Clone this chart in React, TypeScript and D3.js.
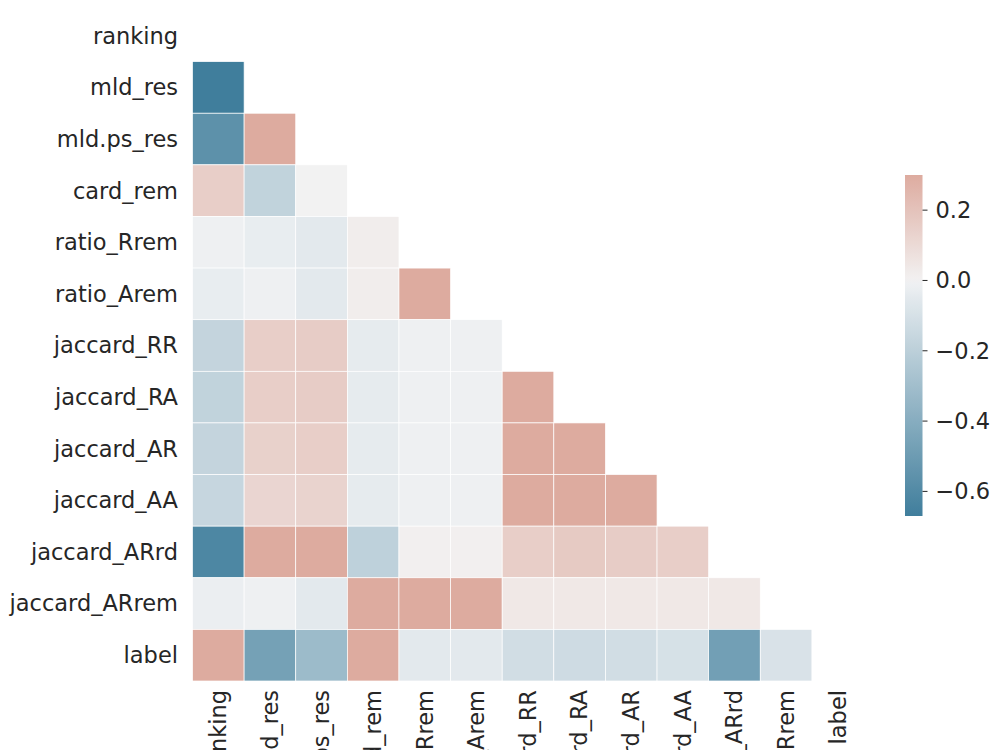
import React from "react";
import * as d3 from "d3";

// variable names, same order on both axes
const variables = [
  "ranking", "mld_res", "mld.ps_res", "card_rem", "ratio_Rrem", "ratio_Arem",
  "jaccard_RR", "jaccard_RA", "jaccard_AR", "jaccard_AA", "jaccard_ARrd",
  "jaccard_ARrem", "label",
];

// lower triangle of the correlation matrix, one row per variable (diagonal masked)
const rowRanking: number[] = [];
const rowMldRes = [-0.67];
const rowMldPsRes = [-0.56, 0.3];
const rowCardRem = [0.15, -0.18, 0.0];
const rowRatioRrem = [-0.01, -0.03, -0.05, 0.02];
const rowRatioArem = [-0.03, -0.01, -0.05, 0.02, 0.3];
const rowJaccardRR = [-0.17, 0.15, 0.16, -0.04, -0.01, -0.01];
const rowJaccardRA = [-0.18, 0.15, 0.16, -0.04, -0.01, -0.01, 0.3];
const rowJaccardAR = [-0.17, 0.14, 0.15, -0.04, -0.01, -0.01, 0.3, 0.3];
const rowJaccardAA = [-0.16, 0.12, 0.13, -0.04, -0.01, -0.01, 0.3, 0.3, 0.3];
const rowJaccardARrd = [-0.62, 0.3, 0.3, -0.19, 0.01, 0.01, 0.15, 0.17, 0.16, 0.15];
const rowJaccardARrem = [-0.02, -0.01, -0.05, 0.3, 0.3, 0.3, 0.04, 0.04, 0.04, 0.04, 0.04];
const rowLabel = [0.3, -0.47, -0.32, 0.3, -0.05, -0.05, -0.12, -0.13, -0.12, -0.1, -0.48, -0.09];

const rows = [
  rowRanking, rowMldRes, rowMldPsRes, rowCardRem, rowRatioRrem, rowRatioArem,
  rowJaccardRR, rowJaccardRA, rowJaccardAR, rowJaccardAA, rowJaccardARrd,
  rowJaccardARrem, rowLabel,
];

const cbarTicks = [-0.6, -0.4, -0.2, 0.0, 0.2];
const vmax = 0.3;

// --- husl (seaborn's flavour) -> rgb, to rebuild diverging_palette(230, 20)
const M = [
  [3.2406, -1.5372, -0.4986],
  [-0.9689, 1.8758, 0.0415],
  [0.0557, -0.204, 1.057],
];
const refU = 0.19784;
const refV = 0.46834;
const labE = 0.008856;
const labK = 903.3;

function maxChroma(L: number, H: number) {
  const hrad = (H / 180) * Math.PI;
  const sinH = Math.sin(hrad);
  const cosH = Math.cos(hrad);
  const sub1 = Math.pow(L + 16, 3) / 1560896;
  const sub2 = sub1 > labE ? sub1 : L / labK;
  let result = Infinity;
  for (const [m1, m2, m3] of M) {
    const top = (0.99915 * m1 + 1.05122 * m2 + 1.1446 * m3) * sub2;
    const rbottom = 0.8633 * m3 - 0.17266 * m2;
    const lbottom = 0.12949 * m3 - 0.38848 * m1;
    const bottom = (rbottom * sinH + lbottom * cosH) * sub2;
    for (const t of [0, 1]) {
      const C = (L * (top - 1.05122 * t)) / bottom;
      if (C > 0 && C < result) result = C;
    }
  }
  return result;
}

function husl(H: number, S: number, L: number): [number, number, number] {
  const C = (maxChroma(L, H) / 100) * S;
  const hrad = (H / 180) * Math.PI;
  const U = C * Math.cos(hrad);
  const V = C * Math.sin(hrad);
  const t = (L + 16) / 116;
  const varY = t * t * t > labE ? t * t * t : (116 * t - 16) / labK;
  const varU = U / (13 * L) + refU;
  const varV = V / (13 * L) + refV;
  const Y = varY;
  const X = -(9 * Y * varU) / ((varU - 4) * varV - varU * varV);
  const Z = (9 * Y - 15 * varV * Y - varV * X) / (3 * varV);
  const lin = M.map(([a, b, c]) => a * X + b * Y + c * Z);
  return lin.map(c => {
    const v = c <= 0.0031308 ? 12.92 * c : 1.055 * Math.pow(c, 1 / 2.4) - 0.055;
    return Math.max(0, Math.min(1, v));
  }) as [number, number, number];
}

const toCss = (c: number[]) => d3.rgb(c[0] * 255, c[1] * 255, c[2] * 255).formatHex();

const negEnd = toCss(husl(230, 75, 50));
const negGray = toCss(husl(230, 75 * 0.15, 95));
const mid = toCss([0.95, 0.95, 0.95]);
const posGray = toCss(husl(20, 75 * 0.15, 95));
const posEnd = toCss(husl(20, 75, 50));

const paletteScale = d3
  .scaleLinear<string>()
  .domain([0, 127 / 256, 128 / 256, 129 / 256, 1])
  .range([negEnd, negGray, mid, posGray, posEnd])
  .interpolate(d3.interpolateRgb)
  .clamp(true);

const allValues = rows.flat();
const vmin = d3.min(allValues) as number;
const vrange = Math.max(vmax, -vmin);

const colorOf = (v: number) => {
  const c = Math.max(vmin, Math.min(vmax, v));
  return paletteScale((c + vrange) / (2 * vrange));
};

const App = () => {
  const width = 1000;
  const height = 750;
  const left = 192.5;
  const top = 10;
  const size = 671;
  const textColor = "#262626";
  const font = "'DejaVu Sans', sans-serif";
  const fontSize = 22.5;

  const band = d3.scaleBand<string>().domain(variables).range([0, size]);
  const x = (n: string) => left + (band(n) as number);
  const y = (n: string) => top + (band(n) as number);

  const cbX = 905;
  const cbW = 17.5;
  const cbY = d3.scaleLinear().domain([vmin, vmax]).range([516, 175]);
  const fmt = d3.format(".1f");
  const gradStops = d3.range(0, 1.0001, 0.02).map(t => vmin + t * (vmax - vmin));

  return (
    <svg width={width} height={height} style={{ position: "absolute", left: 0, top: 0 }}>
      <rect width={width} height={height} fill="#ffffff" />
      <defs>
        <linearGradient id="cbar" x1="0" y1="1" x2="0" y2="0">
          {gradStops.map((v, i) => (
            <stop key={i} offset={(v - vmin) / (vmax - vmin)} stopColor={colorOf(v)} />
          ))}
        </linearGradient>
      </defs>
      <g>
        {rows.map((row, i) =>
          row.map((v, j) => (
            <rect
              key={`${i}-${j}`}
              x={x(variables[j])}
              y={y(variables[i])}
              width={band.bandwidth()}
              height={band.bandwidth()}
              fill={colorOf(v)}
              stroke="#ffffff"
              strokeWidth={0.7}
            />
          ))
        )}
      </g>
      <g fontFamily={font} fontSize={fontSize} fill={textColor}>
        {variables.map(n => (
          <text key={`y-${n}`} x={178} y={y(n) + band.bandwidth() / 2} dy="0.35em" textAnchor="end">
            {n}
          </text>
        ))}
        {variables.map(n => (
          <text
            key={`x-${n}`}
            transform={`translate(${x(n) + band.bandwidth() / 2},${top + size + 9}) rotate(-90)`}
            dy="0.35em"
            textAnchor="end"
          >
            {n}
          </text>
        ))}
      </g>
      <g>
        <rect x={cbX} y={cbY(vmax)} width={cbW} height={cbY(vmin) - cbY(vmax)} fill="url(#cbar)" />
        {cbarTicks.map(t => (
          <g key={t} transform={`translate(${cbX + cbW},${cbY(t)})`}>
            <line x1={0} x2={5} stroke={textColor} strokeWidth={1} />
            <text
              x={13}
              dy="0.35em"
              fontFamily={font}
              fontSize={fontSize}
              fill={textColor}
            >
              {fmt(t)}
            </text>
          </g>
        ))}
      </g>
    </svg>
  );
};

export default App;
